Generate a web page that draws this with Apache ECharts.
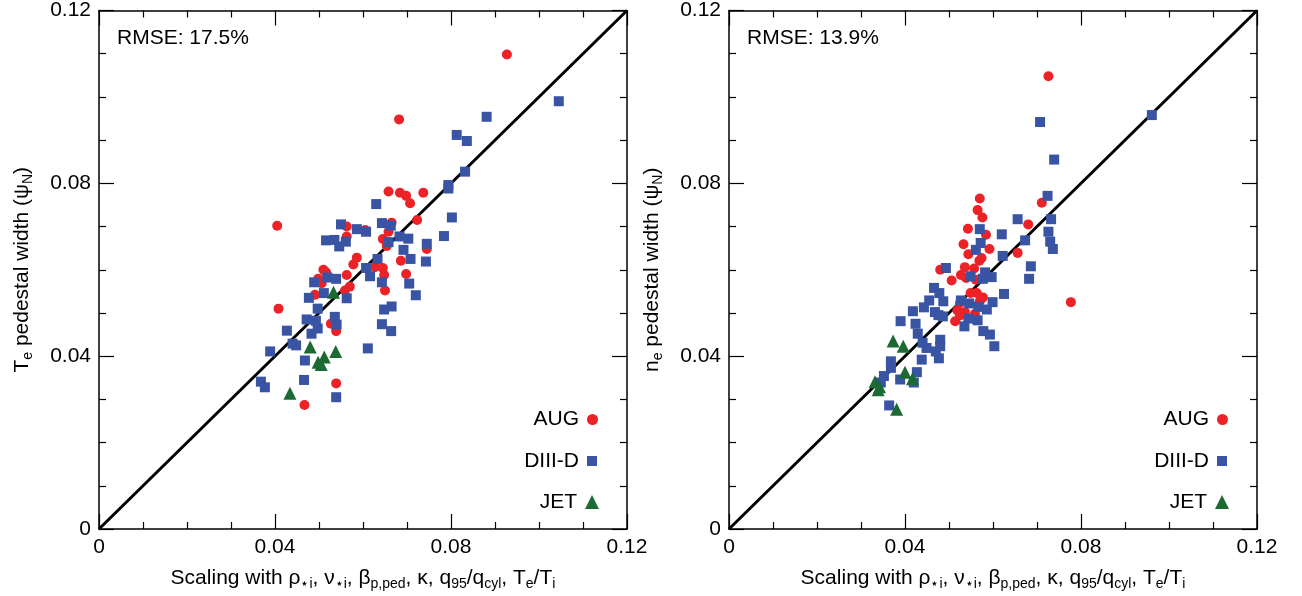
<!DOCTYPE html>
<html><head><meta charset="utf-8">
<script src="https://cdn.jsdelivr.net/npm/echarts@6/dist/echarts.min.js"></script>
<style>html,body{margin:0;padding:0;background:#fff}#c{width:1302px;height:596px}</style>
</head><body><div id="c"></div>
<script>
const tickLabels = ['0', '0.04', '0.08', '0.12'];
const rmseLabels = ['RMSE: 17.5%', 'RMSE: 13.9%'];
const seriesNames = ['AUG', 'DIII-D', 'JET'];
const diagonal = [[0, 0], [0.12, 0.12]];

// Left panel: Te pedestal width
const teAUG = [[0.0658,0.0781],[0.0684,0.0778],[0.0698,0.0771],[0.0737,0.0778],[0.0707,0.0754],[0.0405,0.0702],[0.0723,0.0715],[0.0563,0.0700],[0.0605,0.0692],[0.0665,0.0709],[0.0563,0.0677],[0.0645,0.0671],[0.0658,0.0688],[0.0654,0.0655],[0.0745,0.0648],[0.0586,0.0628],[0.0578,0.0612],[0.0686,0.0621],[0.0510,0.0600],[0.0516,0.0594],[0.0563,0.0588],[0.0627,0.0606],[0.0645,0.0604],[0.0648,0.0588],[0.0698,0.0590],[0.0498,0.0579],[0.0506,0.0569],[0.0570,0.0561],[0.0559,0.0552],[0.0650,0.0552],[0.0491,0.0542],[0.0408,0.0510],[0.0527,0.0475],[0.0539,0.0458],[0.0539,0.0337],[0.0467,0.0287],[0.0927,0.1098],[0.0682,0.0948]];
const teDIIID = [[0.0794,0.0796],[0.0794,0.0788],[0.0630,0.0752],[0.0802,0.0721],[0.0550,0.0705],[0.0643,0.0708],[0.0663,0.0702],[0.0586,0.0694],[0.0607,0.0688],[0.0516,0.0668],[0.0535,0.0669],[0.0561,0.0665],[0.0546,0.0654],[0.0683,0.0677],[0.0703,0.0672],[0.0658,0.0664],[0.0784,0.0678],[0.0745,0.0660],[0.0692,0.0646],[0.0708,0.0625],[0.0743,0.0619],[0.0633,0.0625],[0.0607,0.0604],[0.0616,0.0585],[0.0519,0.0582],[0.0539,0.0579],[0.0643,0.0571],[0.0489,0.0571],[0.0705,0.0568],[0.0511,0.0546],[0.0720,0.0541],[0.0477,0.0535],[0.0563,0.0534],[0.0497,0.0510],[0.0648,0.0508],[0.0665,0.0515],[0.0472,0.0485],[0.0493,0.0482],[0.0536,0.0491],[0.0540,0.0473],[0.0643,0.0474],[0.0497,0.0464],[0.0483,0.0452],[0.0427,0.0459],[0.0664,0.0458],[0.0440,0.0429],[0.0448,0.0425],[0.0389,0.0411],[0.0611,0.0418],[0.0468,0.0390],[0.0466,0.0345],[0.0368,0.0341],[0.0377,0.0328],[0.0539,0.0305],[0.1045,0.0990],[0.0881,0.0954],[0.0813,0.0912],[0.0836,0.0898],[0.0832,0.0827]];
const teJET = [[0.0533,0.0548],[0.0480,0.0421],[0.0538,0.0411],[0.0512,0.0398],[0.0498,0.0386],[0.0505,0.0381],[0.0434,0.0314]];

// Right panel: ne pedestal width
const neAUG = [[0.0570,0.0765],[0.0565,0.0738],[0.0576,0.0721],[0.0711,0.0755],[0.0680,0.0705],[0.0543,0.0695],[0.0584,0.0681],[0.0533,0.0659],[0.0592,0.0648],[0.0544,0.0636],[0.0574,0.0627],[0.0569,0.0621],[0.0656,0.0639],[0.0480,0.0600],[0.0536,0.0606],[0.0557,0.0603],[0.0527,0.0588],[0.0506,0.0575],[0.0539,0.0581],[0.0561,0.0577],[0.0549,0.0546],[0.0563,0.0546],[0.0577,0.0536],[0.0570,0.0527],[0.0525,0.0523],[0.0519,0.0506],[0.0536,0.0502],[0.0559,0.0498],[0.0525,0.0494],[0.0514,0.0481],[0.0777,0.0525],[0.0726,0.1048]];
const neDIIID = [[0.0739,0.0855],[0.0724,0.0771],[0.0732,0.0717],[0.0656,0.0717],[0.0726,0.0688],[0.0730,0.0665],[0.0736,0.0648],[0.0620,0.0682],[0.0673,0.0668],[0.0570,0.0694],[0.0572,0.0662],[0.0561,0.0646],[0.0622,0.0632],[0.0686,0.0608],[0.0682,0.0579],[0.0493,0.0604],[0.0549,0.0585],[0.0582,0.0594],[0.0577,0.0579],[0.0597,0.0583],[0.0625,0.0544],[0.0466,0.0558],[0.0478,0.0546],[0.0455,0.0529],[0.0487,0.0527],[0.0443,0.0513],[0.0468,0.0502],[0.0486,0.0492],[0.0476,0.0495],[0.0527,0.0529],[0.0546,0.0522],[0.0567,0.0514],[0.0599,0.0525],[0.0586,0.0508],[0.0544,0.0487],[0.0565,0.0483],[0.0535,0.0469],[0.0578,0.0458],[0.0593,0.0450],[0.0603,0.0423],[0.0418,0.0504],[0.0390,0.0481],[0.0424,0.0475],[0.0429,0.0452],[0.0440,0.0431],[0.0449,0.0419],[0.0480,0.0438],[0.0480,0.0423],[0.0470,0.0411],[0.0477,0.0395],[0.0438,0.0392],[0.0368,0.0388],[0.0368,0.0373],[0.0427,0.0363],[0.0389,0.0346],[0.0420,0.0339],[0.0352,0.0354],[0.0345,0.0339],[0.0364,0.0286],[0.0707,0.0942],[0.0961,0.0958]];
const neJET = [[0.0373,0.0435],[0.0396,0.0423],[0.0400,0.0363],[0.0417,0.0348],[0.0332,0.0341],[0.0342,0.0329],[0.0339,0.0322],[0.0381,0.0277]];

const FONT = 'Liberation Sans';
const FS = 21;
const colors = {AUG: '#ec2227', 'DIII-D': '#3a54a4', JET: '#1b6a34'};
const symbols = {AUG: ['circle', 10], 'DIII-D': ['rect', 10], JET: ['triangle', 13]};

const subRich = {
  s: {fontSize: 14, fontFamily: FONT, color: '#000', padding: [12, 0, 0, 0]}
};
const xName = 'Scaling with ρ{s|⋆i}, ν{s|⋆i}, β{s|p,ped}, κ, q{s|95}/q{s|cyl}, T{s|e}/T{s|i}';
const yNames = ['T{s|e} pedestal width (ψ{s|N})', 'n{s|e} pedestal width (ψ{s|N})'];

const gridLefts = [99, 729];
const grids = gridLefts.map(l => ({left: l, width: 528, top: 10, height: 520}));

function labelFmt(v) {
  const i = Math.round(v / 0.04);
  return tickLabels[i] !== undefined ? tickLabels[i] : '';
}
function baseAxis(gi, pos, withLabel, name, isY) {
  return {
    type: 'value', gridIndex: gi, position: pos, min: 0, max: 0.12, interval: 0.04,
    axisLine: {show: true, onZero: false, lineStyle: {color: '#000', width: 1.5}},
    axisTick: {show: true, inside: true, length: 15, lineStyle: {color: '#000', width: 1.2}},
    minorTick: {show: true, splitNumber: 4, length: 7, lineStyle: {color: '#000', width: 1.2}},
    splitLine: {show: false},
    axisLabel: {show: withLabel, formatter: labelFmt, fontSize: FS, fontFamily: FONT, color: '#000', margin: 8},
    name: name || '', nameLocation: 'middle',
    nameGap: isY ? 64 : 36,
    nameTextStyle: {fontSize: FS, fontFamily: FONT, color: '#000', rich: subRich}
  };
}

const xAxes = [], yAxes = [];
[0, 1].forEach(g => {
  xAxes.push(baseAxis(g, 'bottom', true, xName, false));
  xAxes.push(baseAxis(g, 'top', false, '', false));
  yAxes.push(baseAxis(g, 'left', true, yNames[g], true));
  yAxes.push(baseAxis(g, 'right', false, '', true));
});

const panelData = [
  {AUG: teAUG, 'DIII-D': teDIIID, JET: teJET},
  {AUG: neAUG, 'DIII-D': neDIIID, JET: neJET}
];

const series = [];
[0, 1].forEach(g => {
  series.push({
    type: 'line', xAxisIndex: g * 2, yAxisIndex: g * 2, data: diagonal,
    symbol: 'none', lineStyle: {color: '#000', width: 3}, z: 1, silent: true
  });
  seriesNames.forEach((n, k) => {
    series.push({
      name: n, type: 'scatter', xAxisIndex: g * 2, yAxisIndex: g * 2,
      data: panelData[g][n], symbol: symbols[n][0], symbolSize: symbols[n][1],
      itemStyle: {color: colors[n], opacity: 1}, z: 2 + k
    });
  });
});

const legendTops = [409, 450.5, 491.5];
const legendRights = [[704, 705, 703], [74, 75, 73]];
const legendSizes = [11, 10, 14];
const legends = [];
[0, 1].forEach(g => {
  seriesNames.forEach((n, k) => {
    legends.push({
      data: [n], orient: 'vertical', right: legendRights[g][k], top: legendTops[k],
      align: 'right', itemWidth: legendSizes[k], itemHeight: legendSizes[k], itemGap: 0, padding: 0,
      selectedMode: false,
      textStyle: {fontSize: FS, fontFamily: FONT, color: '#000', padding: [0, 3, 0, 0]}
    });
  });
});

const chart = echarts.init(document.getElementById('c'), null, {renderer: 'canvas'});
chart.setOption({
  animation: false,
  backgroundColor: '#fff',
  grid: grids,
  xAxis: xAxes,
  yAxis: yAxes,
  legend: legends,
  series: series,
  graphic: [0, 1].map(g => ({
    type: 'text', left: gridLefts[g] + 18, top: 28,
    style: {text: rmseLabels[g], fontSize: FS, fontFamily: FONT, fill: '#000'}
  }))
});
</script></body></html>
